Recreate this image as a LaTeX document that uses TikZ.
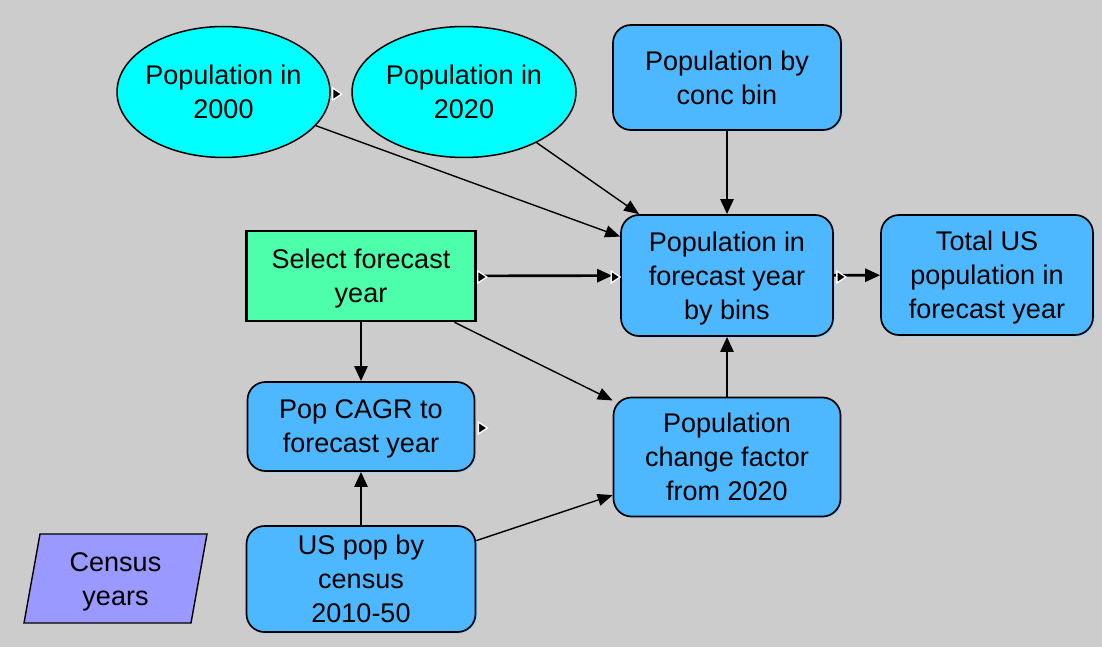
\documentclass[tikz,border=0pt]{standalone}
\usepackage{fontspec}
\setmainfont{Liberation Sans}
\usetikzlibrary{arrows.meta,shapes.geometric,shadows,calc}
\definecolor{bg}{HTML}{CCCCCC}
\definecolor{varblue}{HTML}{4DB8FF}
\definecolor{chancecyan}{HTML}{00FFFF}
\definecolor{decgreen}{HTML}{4DFFAA}
\definecolor{idxpurple}{HTML}{9999FF}
\definecolor{shadeblue}{HTML}{8FD3FF}
\newcommand\outmark[1]{\draw[white, line width=1.3pt, fill=black, line join=miter] ($(#1)+(-4,-6)$) -- ($(#1)+(5,0)$) -- ($(#1)+(-4,6)$) -- cycle;}
\begin{document}
\begin{tikzpicture}[x=1pt,y=-1pt,
  lbl/.style={font=\fontsize{27}{34}\selectfont, align=center, text=black, text depth=0pt},
  varbox/.style={lbl, draw=black, line width=1.7pt, fill=varblue, rounded corners=18pt, inner sep=0pt,
     drop shadow={shadow xshift=1.5pt, shadow yshift=-1.5pt, fill=shadeblue, opacity=1}},
  chancenode/.style={lbl, ellipse, draw=black, line width=1.5pt, fill=chancecyan, inner xsep=-8pt, inner ysep=0pt},
  decbox/.style={lbl, draw=black, line width=2.6pt, fill=decgreen, inner sep=0pt},
  thinarrow/.style={draw=black, line width=1.4pt, -{Triangle[length=15pt,width=12pt]}},
  thickarrow/.style={draw=black, line width=2.6pt, -{Triangle[length=15pt,width=13pt]}},
]
\fill[bg] (0,0) rectangle (1102,647);
\useasboundingbox (0,0) rectangle (1102,647);

\node[chancenode, minimum width=213pt, minimum height=131pt] (p2000) at (223.5,92) {Population in\\2000};
\node[chancenode, minimum width=224pt, minimum height=131pt] (p2020) at (464,92) {Population in\\2020};
\node[varbox, minimum width=228pt, minimum height=105pt] (conc) at (727,77.5) {Population by\\conc bin};
\node[varbox, minimum width=212pt, minimum height=121pt] (fcast) at (727,275.5) {Population in\\forecast year\\by bins};
\node[varbox, minimum width=212pt, minimum height=120pt] (total) at (987,275) {Total US\\population in\\forecast year};
\node[decbox, minimum width=229pt, minimum height=90pt] (select) at (361,276) {Select forecast\\year};
\node[varbox, minimum width=227pt, minimum height=89pt] (cagr) at (361,426.5) {Pop CAGR to\\forecast year};
\node[varbox, minimum width=227pt, minimum height=119pt] (change) at (727,457) {Population\\change factor\\from 2020};
\node[varbox, minimum width=229pt, minimum height=106pt] (uspop) at (361,579) {US pop by\\census\\2010-50};
\draw[black, line width=1.4pt, fill=idxpurple] (40,534) -- (207,534) -- (191,623) -- (24,623) -- cycle;
\node[lbl] (census) at (115.5,579) {Census\\years};

\draw[thinarrow] (p2000) -- (fcast);
\draw[thinarrow] (p2020) -- (fcast);
\draw[thickarrow] (conc) -- (fcast);
\draw[thickarrow, shorten >=8pt] (select) -- (fcast);
\draw[thickarrow] (fcast) -- (total);
\draw[thickarrow] (select) -- (cagr);
\draw[thinarrow] (select) -- (change);
\draw[thickarrow] (uspop) -- (cagr);
\draw[thinarrow] (uspop) -- (change);
\draw[thickarrow] (change) -- (fcast);

\coordinate (m1) at ($(p2000.east)+(6,2)$);
\coordinate (m2) at ($(select.east)+(5,1)$);
\coordinate (m3) at ($(fcast.west)+(-5,1.5)$);
\coordinate (m4) at ($(fcast.east)+(7,1.5)$);
\coordinate (m5) at ($(cagr.east)+(7,1.5)$);
\outmark{m1}
\outmark{m2}
\outmark{m3}
\outmark{m4}
\outmark{m5}
\end{tikzpicture}
\end{document}
